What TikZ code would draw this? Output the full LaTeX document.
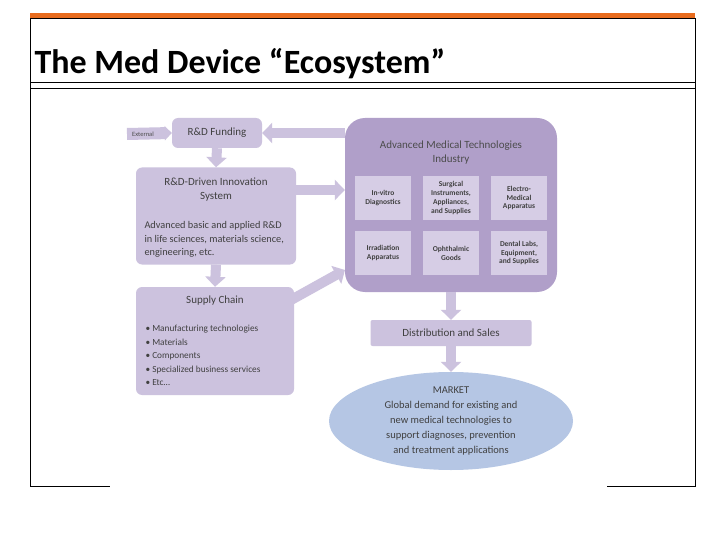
\documentclass[tikz,border=0pt]{standalone}
\usepackage{fontspec}
\setmainfont{Carlito}
\usetikzlibrary{arrows.meta,shapes.geometric}
\definecolor{lilac}{RGB}{204,194,222}
\definecolor{deeplilac}{RGB}{176,159,201}
\definecolor{palelilac}{RGB}{214,205,229}
\definecolor{skyblue}{RGB}{181,198,228}
\definecolor{barorange}{RGB}{232,108,30}
\tikzset{
  box/.style={fill=lilac, rounded corners=6pt, text=black!75, align=center},
  cell/.style={fill=palelilac, minimum width=56pt, minimum height=44pt, align=center, font=\fontsize{7.5}{8.8}\selectfont\bfseries, text=black!75, inner sep=1pt},
  flow/.style={draw=lilac, line width=10pt, -{Triangle[width=20pt,length=10pt]}}
}
\begin{document}
\begin{tikzpicture}[x=1pt,y=-1pt]
\useasboundingbox (0,0) rectangle (720,540);
\fill[barorange] (30,13) rectangle (695,18);
\draw[thick] (30,18) rectangle (695,486);
\draw[thick] (30,82) -- (695,82);
\draw[thick] (30,88) -- (695,88);
\node[anchor=west, font=\fontsize{34}{38}\selectfont\bfseries] (title) at (31,64) {The Med Device “Ecosystem”};
\fill[white] (110,90) rectangle (607,490);
% industry
\node[fill=deeplilac, rounded corners=20pt, minimum width=212pt, minimum height=174pt] (ind) at (451,205) {};
\node[font=\fontsize{11}{14}\selectfont, align=center, text=black!70] (indt) at (451,153) {Advanced Medical Technologies\\Industry};
\foreach \t [count=\i] in {{In-vitro\\Diagnostics},{Surgical\\Instruments,\\Appliances,\\and Supplies},{Electro-\\Medical\\Apparatus}}
  \node[cell] (a\i) at (315+68*\i,198) {\t};
\foreach \t [count=\i] in {{Irradiation\\Apparatus},{Ophthalmic\\Goods},{Dental Labs,\\Equipment,\\and Supplies}}
  \node[cell] (b\i) at (315+68*\i,253) {\t};
% left column
\node[box, minimum width=90pt, minimum height=30pt, font=\fontsize{11}{13}\selectfont] (fund) at (217,133) {R\&D Funding};
\node[box, minimum width=160pt, minimum height=97pt] (inno) at (216,216) {};
\node[font=\fontsize{11}{14}\selectfont, align=center, text=black!75] (innot) at (216,190) {R\&D-Driven Innovation\\System};
\node[font=\fontsize{10.3}{13.5}\selectfont, align=left, text=black!75, anchor=north west] (innob) at (141,218) {Advanced basic and applied R\&D\\in life sciences, materials science,\\engineering, etc.};
\node[box, minimum width=158pt, minimum height=108pt] (sup) at (215,341) {};
\node[font=\fontsize{11}{13}\selectfont, text=black!75] (supt) at (215,301) {Supply Chain};
\node[font=\fontsize{9.3}{13.5}\selectfont, align=left, text=black!75, anchor=north west] (supb) at (142,322) {• Manufacturing technologies\\• Materials\\• Components\\• Specialized business services\\• Etc…};
% bottom
\node[box, rounded corners=2pt, minimum width=161pt, minimum height=26pt, font=\fontsize{11}{13}\selectfont] (dist) at (451,333) {Distribution and Sales};
\node[ellipse, fill=skyblue, minimum width=244pt, minimum height=98pt, inner sep=0pt, font=\fontsize{10.5}{15}\selectfont, align=center, text=black!75] (mkt) at (451,421) {MARKET\\Global demand for existing and\\new medical technologies to\\support diagnoses, prevention\\and treatment applications};
% external
\coordinate (ext) at (127,134);
\draw[lilac, line width=12pt, -{Triangle[width=14pt,length=7pt]}] (ext) -- (fund.west);
\node[font=\fontsize{6.5}{7}\selectfont, text=black!70] (extt) at (143,134) {External};
% flows
\draw[flow] (ind.west |- fund) -- (fund.east);
\draw[flow] (fund.south) -- (inno.north);
\draw[flow] (inno.east |- innot) -- (ind.west |- innot);
\draw[flow] (inno.south) -- (sup.north);
\draw[flow] (291,300) -- (345,270);
\draw[flow] (ind.south) -- (dist.north);
\draw[flow] (dist.south) -- (mkt.north);
\end{tikzpicture}
\end{document}
